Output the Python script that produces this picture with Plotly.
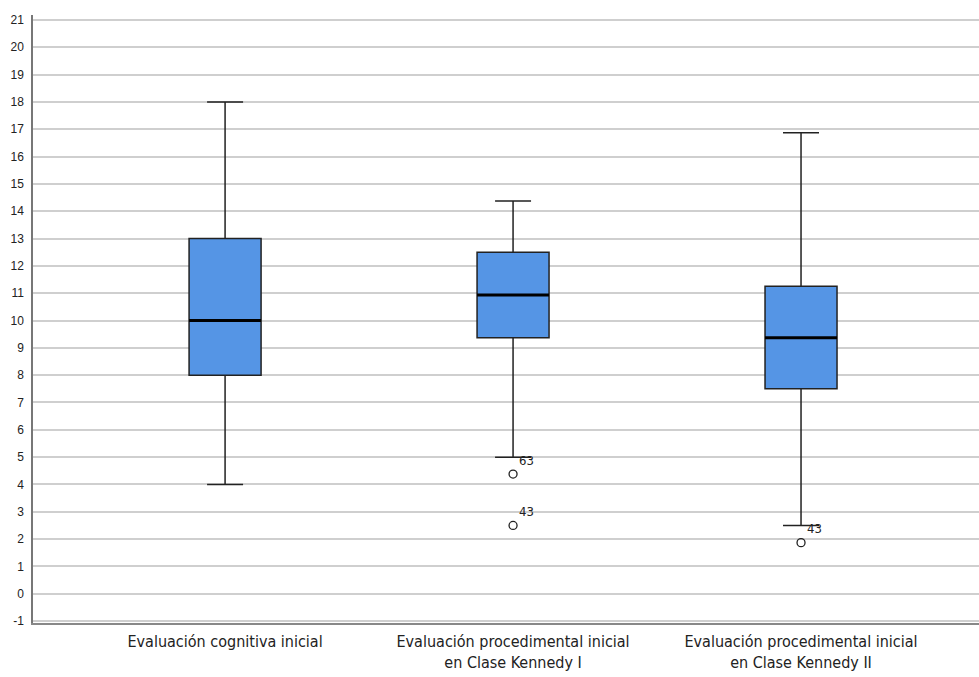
import plotly.graph_objects as go

# Summary statistics of each evaluation
categories = [
    "Evaluación cognitiva inicial",
    "Evaluación procedimental inicial<br>en Clase Kennedy I",
    "Evaluación procedimental inicial<br>en Clase Kennedy II",
]
lower_whisker = [4.0, 5.0, 2.5]
q1 = [8.0, 9.37, 7.5]
median = [10.0, 10.93, 9.37]
q3 = [13.0, 12.5, 11.25]
upper_whisker = [18.0, 14.37, 16.87]

# Outlying cases (category index, value, case id)
outlier_cat = [1, 1, 2]
outlier_val = [4.38, 2.5, 1.87]
outlier_id = ["63", "43", "43"]

y_ticks = list(range(-1, 22))

BOX_W = 0.25
positions = list(range(len(categories)))

LABEL_FONT = "DejaVu Sans Condensed, Liberation Sans Narrow, Liberation Sans"

fig = go.Figure()

fig.add_trace(go.Box(
    x=positions,
    q1=q1, median=median, q3=q3,
    lowerfence=lower_whisker, upperfence=upper_whisker,
    width=BOX_W,
    whiskerwidth=0.5,
    fillcolor="#5595E5",
    line=dict(color="#222222", width=1.5),
    boxpoints=False,
    showlegend=False,
    hoverinfo="skip",
))

# Thick median bars
for i, m in zip(positions, median):
    fig.add_trace(go.Scatter(
        x=[i - BOX_W / 2, i + BOX_W / 2], y=[m, m],
        mode="lines", line=dict(color="black", width=3),
        showlegend=False, hoverinfo="skip",
    ))

# Outliers with case labels
fig.add_trace(go.Scatter(
    x=outlier_cat, y=outlier_val,
    mode="markers+text",
    marker=dict(symbol="circle-open", size=8, color="#222222", line=dict(width=1.3)),
    text=outlier_id,
    textposition="top right",
    textfont=dict(family=LABEL_FONT, size=13, color="#222222"),
    showlegend=False, hoverinfo="skip",
))

fig.update_layout(
    width=979, height=677,
    margin=dict(l=33, r=0, t=15, b=54),
    paper_bgcolor="white",
    plot_bgcolor="white",
    font=dict(family=LABEL_FONT, color="#222222"),
)

fig.update_xaxes(
    range=[-0.667, 2.618],
    tickmode="array",
    tickvals=positions,
    ticktext=categories,
    tickfont=dict(family=LABEL_FONT, size=16, color="#222222"),
    showgrid=False,
    zeroline=False,
    showline=True,
    linecolor="#888888",
    linewidth=2,
    ticks="",
    ticklabelstandoff=3,
    automargin=False,
)

fig.update_yaxes(
    range=[-1.07, 21.18],
    tickmode="array",
    tickvals=y_ticks,
    ticktext=[str(v) for v in y_ticks],
    tickfont=dict(family="Liberation Sans, Arial", size=12, color="#222222"),
    showgrid=True,
    gridcolor="#CFCFCF",
    gridwidth=1.5,
    zeroline=False,
    showline=True,
    linecolor="#777777",
    linewidth=1.5,
    ticks="",
    ticklabelstandoff=5,
    automargin=False,
)

fig.write_html("out.html")
